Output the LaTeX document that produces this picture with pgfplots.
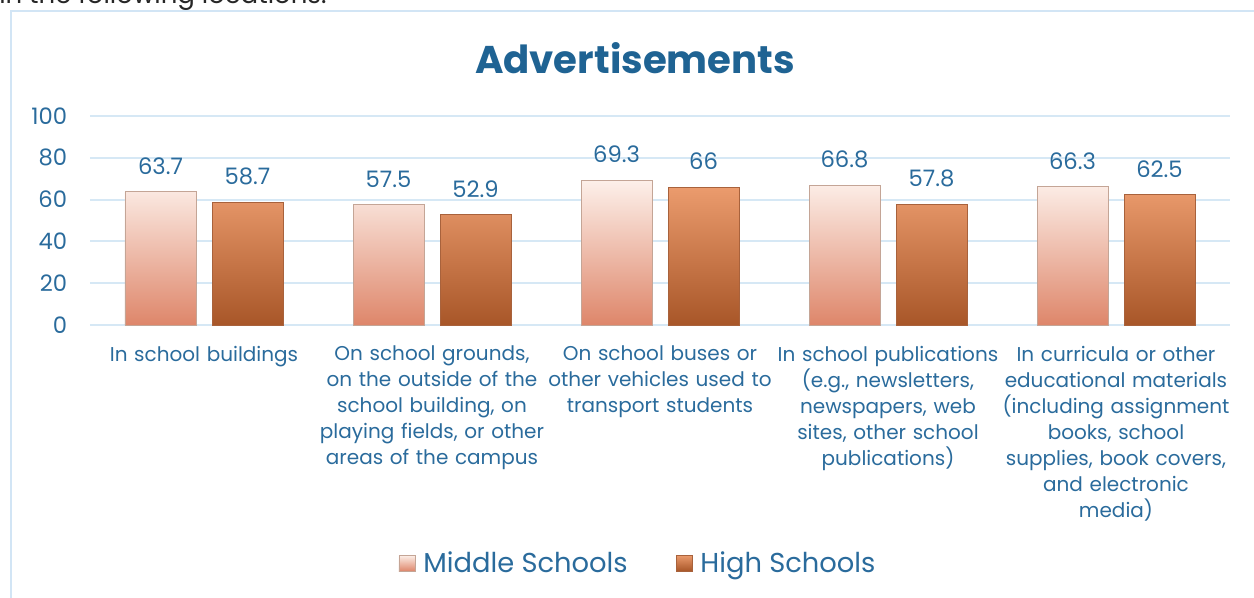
\documentclass[border=0pt]{standalone}
\usepackage{pgfplots}
\pgfplotsset{compat=1.18}
\usepackage{fontspec}
\setmainfont{Poppins}
\definecolor{txtblue}{HTML}{2A6B9C}
\definecolor{titleblue}{HTML}{1F6393}
\definecolor{gridblue}{HTML}{D6E8F5}
\definecolor{framec}{HTML}{D2E5F5}
\definecolor{msTop}{HTML}{FDF0EA}
\definecolor{msBot}{HTML}{DE866A}
\definecolor{msEdge}{HTML}{C4A596}
\definecolor{hsTop}{HTML}{EB9B6D}
\definecolor{hsBot}{HTML}{A85628}
\definecolor{hsEdge}{HTML}{A8623C}
\begin{document}
\begin{tikzpicture}
\useasboundingbox (0pt,0pt) rectangle (940.5pt,-447.75pt);
\begin{scope}[x=0.75pt,y=-0.75pt]
\node[anchor=base west, inner sep=0pt, text=black!85, font=\fontsize{19.5pt}{22pt}\selectfont] at (-1,3) {in the following locations.};
\draw[framec, line width=1.5pt] (11,11) rectangle (1270,620);
\node[font=\fontsize{29pt}{33pt}\selectfont\bfseries, text=titleblue] at (635,58) {Advertisements};
\end{scope}
\begin{axis}[
  at={(67.5pt,-243.75pt)}, anchor=south west,
  scale only axis, width=855pt, height=156.75pt,
  ymin=0, ymax=100, ytick={0,20,...,100},
  xmin=-0.5, xmax=4.5, xtick=data,
  xticklabels={
    {In school buildings},
    {On school grounds,\\on the outside of the\\school building, on\\playing fields, or other\\areas of the campus},
    {On school buses or\\other vehicles used to\\transport students},
    {In school publications\\(e.g., newsletters,\\newspapers, web\\sites, other school\\publications)},
    {In curricula or other\\educational materials\\(including assignment\\books, school\\supplies, book covers,\\and electronic\\media)}},
  xticklabel style={text width=180pt, align=center, inner sep=0pt, yshift=-15.5pt, text=txtblue, font=\fontsize{15pt}{19.5pt}\selectfont},
  yticklabel style={inner sep=0pt, xshift=-17pt, text=txtblue, font=\fontsize{17pt}{20pt}\selectfont},
  /pgf/number format/assume math mode=true,
  major tick length=0pt,
  axis line style={draw=none},
  ymajorgrids, major grid style={gridblue, line width=1.5pt},
  ybar=12pt, bar width=53.25pt,
  nodes near coords,
  every node near coord/.append style={anchor=south, inner sep=0pt, yshift=12.5pt, text=txtblue, font=\fontsize{17pt}{20pt}\selectfont},
  legend style={at={(0.481,-1.139)}, anchor=center, draw=none, fill=none, legend columns=2,
    font=\fontsize{20.5pt}{24pt}\selectfont, text=txtblue,
    /tikz/every even column/.append style={column sep=34pt}},
  legend image code/.code={\path[#1] (0pt,-6pt) rectangle (12pt,6pt);\path (16pt,0pt);},
  clip=false,
]
\addplot[top color=msTop, bottom color=msBot, draw=msEdge, line width=0.6pt] coordinates {(0,63.7) (1,57.5) (2,69.3) (3,66.8) (4,66.3)};
\addplot[top color=hsTop, bottom color=hsBot, draw=hsEdge, line width=0.6pt] coordinates {(0,58.7) (1,52.9) (2,66) (3,57.8) (4,62.5)};
\legend{Middle Schools, High Schools}
\end{axis}
\end{tikzpicture}
\end{document}
